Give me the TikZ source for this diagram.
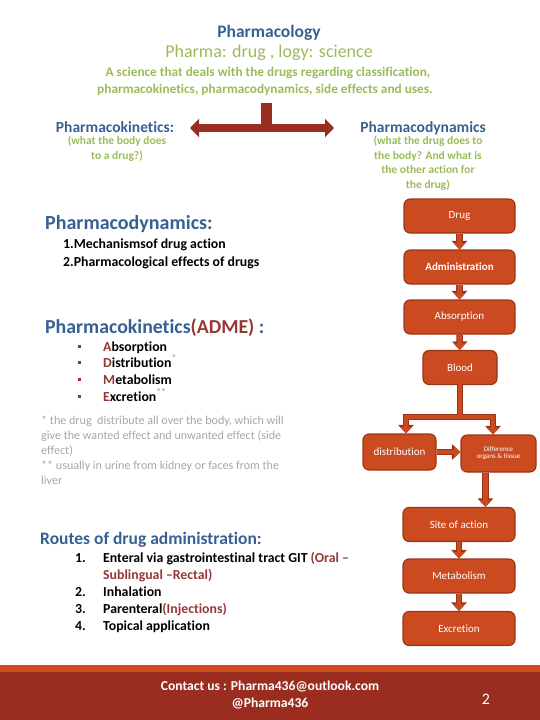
\documentclass[tikz,border=0pt]{standalone}
\usepackage{fontspec}
\setmainfont{Carlito}[Ligatures=NoCommon]
\usetikzlibrary{arrows.meta}
\definecolor{hblue}{HTML}{376092}
\definecolor{hgreen}{HTML}{9BBB59}
\definecolor{dred}{HTML}{953735}
\definecolor{forange}{HTML}{CB4A20}
\definecolor{fborder}{HTML}{9A3418}
\definecolor{tarrow}{HTML}{982E22}
\definecolor{footdark}{HTML}{9A2D1F}
\definecolor{footstripe}{HTML}{D24B1E}
\definecolor{fgray}{HTML}{A6A6A6}
\newcommand{\fs}[1]{\fontsize{#1}{#1}\selectfont}
\newcommand{\fsl}[2]{\fontsize{#1}{#2}\selectfont}
\begin{document}
\begin{tikzpicture}[x=1pt,y=-1pt,
  txt/.style={inner sep=0pt, anchor=base west},
  ctxt/.style={inner sep=0pt, anchor=base},
  fbox/.style={draw=fborder, line width=1.1pt, fill=forange, rounded corners=6pt,
    text=white, minimum width=111pt, minimum height=34pt, inner sep=0pt,
    font=\fs{11}, align=center},
  oline/.style={draw=fborder, line width=6.5pt},
  fline/.style={draw=forange, line width=4.5pt},
  oarr/.style={draw=fborder, line width=6.5pt, -{Triangle[width=15pt,length=8.5pt]}},
  farr/.style={draw=forange, line width=4.5pt, -{Triangle[width=12pt,length=6.5pt]}},
  blk/.style={preaction={oarr}, farr},
  tbar/.style={draw=tarrow, line width=8pt, {Triangle[width=18pt,length=9pt]}-{Triangle[width=18pt,length=9pt]}}
]
\useasboundingbox (0,0) rectangle (540,720);
% footer
\fill[footdark] (0,672) rectangle (540,720);
\fill[footstripe] (0,665) rectangle (540,672);
\node[ctxt, text=white, font=\bfseries\fs{13.6}, align=center] (contact) at (270,690) {Contact us : Pharma436@outlook.com};
\node[ctxt, text=white, font=\bfseries\fs{13.6}] (handle) at (270,707) {@Pharma436};
\node[ctxt, text=white, font=\fs{16}] (pagenum) at (486,704) {2};

% header
\node[ctxt, text=hblue, font=\bfseries\fs{17.5}] (title) at (269,37) {Pharmacology};
\node[ctxt, text=hgreen, font=\fs{18}] (subtitle) at (269,57) {Pharma: drug , logy: science};
\node[ctxt, text=hgreen, font=\bfseries\fs{13.3}] (desc1) at (268,76) {A science that deals with the drugs regarding classification,};
\node[ctxt, text=hgreen, font=\bfseries\fs{13.3}] (desc2) at (265,93) {pharmacokinetics, pharmacodynamics, side effects and uses.};

% T arrow
\coordinate (stemtop) at (266,103);
\coordinate (stembot) at (266,128);
\coordinate (tl) at (190,128);
\coordinate (tr) at (334,128);
\draw[draw=tarrow, line width=11pt] (stemtop) -- (stembot);
\draw[tbar] (tl) -- (tr);

\node[ctxt, text=hblue, font=\bfseries\fs{15.5}] (pk) at (115,132) {Pharmacokinetics:};
\node[ctxt, text=hblue, font=\bfseries\fs{15.5}] (pd) at (423,132) {Pharmacodynamics};
\node[anchor=north, inner sep=0pt, text=hgreen, font=\bfseries\fsl{11.5}{14.5}, align=center] (pkdesc) at (117,136) {(what the body does\\to a drug?)};
\node[anchor=north, inner sep=0pt, text=hgreen, font=\bfseries\fsl{11.5}{14.5}, align=center] (pddesc) at (428,136) {(what the drug does to\\the body? And what is\\the other action for\\the drug)};

% Pharmacodynamics section
\node[txt, text=hblue, font=\bfseries\fs{20}] (pdhead) at (45,229) {Pharmacodynamics:};
\node[txt, font=\bfseries\fs{13.8}] (pd1) at (63,248) {1.Mechanismsof drug action};
\node[txt, font=\bfseries\fs{13.8}] (pd2) at (63,266) {2.Pharmacological effects of drugs};

% Pharmacokinetics section
\node[txt, text=hblue, font=\bfseries\fs{19.8}] (pkhead) at (45,333) {Pharmacokinetics\textcolor{dred}{(ADME)} :};
\foreach \y/\first/\rest/\ast [count=\i] in {351/A/bsorption/, 367/D/istribution/*, 384/M/etabolism/, 401/E/xcretion/**}{
  \node[txt, text=dred] (bul\i) at (78,\y-3) {\rule{3pt}{3pt}};
  \node[txt, font=\bfseries\fs{13.8}] (adme\i) at (103,\y) {\textcolor{dred}{\first}\rest\textcolor{fgray}{\textsuperscript{\ast}}};
}
\node[anchor=north west, inner sep=0pt, text=fgray, font=\fsl{12.1}{15}, align=left] (foot) at (41,416) {* the drug\ \ distribute all over the body, which will\\give the wanted effect and unwanted effect (side\\effect)\\** usually in urine from kidney or faces from the\\liver};

% Routes
\node[txt, text=hblue, font=\bfseries\fs{17.5}] (routes) at (40,544) {Routes of drug administration:};
\foreach \y/\n/\t [count=\i] in {562/1./{Enteral via gastrointestinal tract GIT \textcolor{dred}{(Oral –}}, 579/{}/{\textcolor{dred}{Sublingual –Rectal)}}, 596/2./Inhalation, 613/3./{Parenteral\textcolor{dred}{(Injections)}}, 630/4./Topical application}{
  \node[txt, font=\bfseries\fs{13.8}] (rn\i) at (75,\y) {\n};
  \node[txt, font=\bfseries\fs{13.8}] (rt\i) at (103,\y) {\t};
}

% flowchart
\node[fbox] (drug) at (459.5,216) {Drug};
\node[fbox, font=\bfseries\fs{11}] (admin) at (459.5,267) {Administration};
\node[fbox] (absorp) at (459.5,317) {Absorption};
\node[fbox, minimum width=74pt] (blood) at (460,367.5) {Blood};
\node[fbox, minimum width=73pt, minimum height=36pt] (distr) at (399.5,452) {distribution};
\node[fbox, minimum width=75pt, minimum height=37pt, font=\fs{7}] (diff) at (498.5,453.5) {Difference\\organs \& tissue};
\node[fbox, minimum width=112pt] (site) at (459,524.5) {Site of action};
\node[fbox, minimum width=112pt] (metab) at (459,576) {Metabolism};
\node[fbox, minimum width=112pt] (excr) at (459,628.5) {Excretion};

\draw[blk] (drug) -- (admin);
\draw[blk] (admin) -- (absorp);
\draw[blk] (absorp) -- (blood);
\coordinate (split) at (460,417);
\coordinate (sl) at (406,417);
\coordinate (sr) at (493,417);
% split connector: outlines first, then fills
\draw[oline] ([yshift=1pt]blood.south) -- (split);
\draw[oline, line cap=rect] (sl) -- (sr);
\draw[oarr] (sl) -- (sl |- distr.north);
\draw[oarr] (sr) -- (sr |- diff.north);
\draw[fline] ([yshift=1pt]blood.south) -- (split);
\draw[fline, line cap=rect] (sl) -- (sr);
\draw[farr] (sl) -- (sl |- distr.north);
\draw[farr] (sr) -- (sr |- diff.north);
\draw[blk] (distr.east) -- (distr.east -| diff.west);
\draw[blk] ([xshift=-13pt]diff.south) -- ([xshift=-13pt]diff.south |- site.north);
\draw[blk] (site) -- (metab);
\draw[blk] (metab) -- (excr);
\end{tikzpicture}
\end{document}
